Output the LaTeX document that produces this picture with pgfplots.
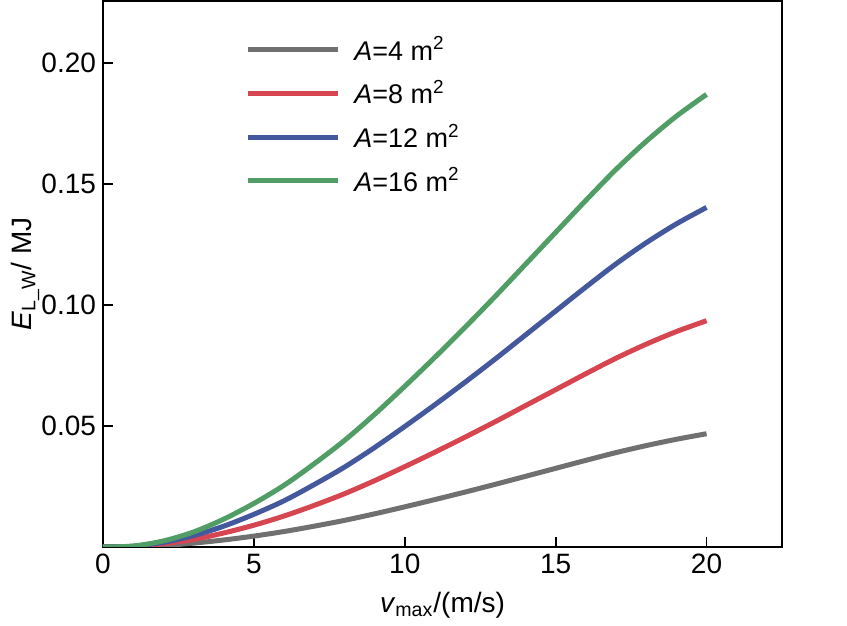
\documentclass[border=0pt]{standalone}
\usepackage{fontspec}
\setmainfont{Liberation Sans}
\usepackage{pgfplots}
\pgfplotsset{compat=1.18}

\definecolor{cgray}{RGB}{112,112,112}
\definecolor{cred}{RGB}{214,70,80}
\definecolor{cblue}{RGB}{68,88,158}
\definecolor{cgreen}{RGB}{80,158,102}

\begin{document}
\begin{tikzpicture}
\begin{axis}[
  at={(0,0)}, anchor=south west,
  scale only axis,
  width=339.5pt, height=273pt,
  xmin=0, xmax=22.5,
  ymin=0, ymax=0.2256,
  xtick={0,5,10,15,20},
  ytick={0.05,0.10,0.15,0.20},
  yticklabel style={/pgf/number format/.cd, fixed, fixed zerofill, precision=2},
  /pgf/number format/assume math mode=true,
  tick align=inside,
  xtick pos=left, ytick pos=left,
  major tick length=5pt,
  every tick/.style={black, line width=0.9pt},
  axis line style={line width=1pt},
  tick label style={font=\fontsize{14}{16}\selectfont},
  label style={font=\fontsize{14}{16}\selectfont},
  xlabel={\textit{v}\textsubscript{max}/(m/s)},
  ylabel={\textit{E}\textsubscript{L\_W}/ MJ},
  xlabel style={at={(axis description cs:0.5,0)}, anchor=center, yshift=-29pt},
  ylabel style={at={(axis description cs:0,0.5)}, anchor=center, yshift=39pt},
  legend style={draw=none, fill=none, at={(0.209,0.943)}, anchor=north west,
    font=\fontsize{13.5}{15}\selectfont, row sep=4.5pt, column sep=5pt, inner sep=0pt},
  legend cell align=left,
  legend image code/.code={\draw[#1] (0pt,0pt) -- (45pt,0pt);},
  every axis plot/.append style={line width=2.5pt, smooth},
]
\addplot[cgray] coordinates {
(0,0) (1,0.0001) (2,0.0006) (3,0.0016) (4,0.0029) (5,0.0045) (6,0.0064)
(7,0.0086) (8,0.0110) (9,0.0137) (10,0.0166) (11,0.0196) (12,0.0227)
(13,0.0259) (14,0.0292) (15,0.0325) (16,0.0358) (17,0.0390) (18,0.0419)
(19,0.0445) (20,0.0468)};
\addlegendentry{\textit{A}=4 m\textsuperscript{2}}
\addplot[cred] coordinates {
(0,0) (1,0.0002) (2,0.0013) (3,0.0031) (4,0.0058) (5,0.0090) (6,0.0128)
(7,0.0172) (8,0.0220) (9,0.0274) (10,0.0332) (11,0.0392) (12,0.0454)
(13,0.0518) (14,0.0584) (15,0.0650) (16,0.0716) (17,0.0780) (18,0.0838)
(19,0.0890) (20,0.0935)};
\addlegendentry{\textit{A}=8 m\textsuperscript{2}}
\addplot[cblue] coordinates {
(0,0) (1,0.0003) (2,0.0019) (3,0.0047) (4,0.0086) (5,0.0135) (6,0.0191)
(7,0.0258) (8,0.0330) (9,0.0411) (10,0.0498) (11,0.0588) (12,0.0681)
(13,0.0777) (14,0.0876) (15,0.0975) (16,0.1074) (17,0.1170) (18,0.1257)
(19,0.1335) (20,0.1403)};
\addlegendentry{\textit{A}=12 m\textsuperscript{2}}
\addplot[cgreen] coordinates {
(0,0) (1,0.0004) (2,0.0025) (3,0.0062) (4,0.0115) (5,0.0180) (6,0.0255)
(7,0.0344) (8,0.0440) (9,0.0548) (10,0.0664) (11,0.0784) (12,0.0908)
(13,0.1036) (14,0.1168) (15,0.1300) (16,0.1432) (17,0.1560) (18,0.1676)
(19,0.1780) (20,0.1870)};
\addlegendentry{\textit{A}=16 m\textsuperscript{2}}
\end{axis}
\useasboundingbox (-51.5pt,-39.5pt) rectangle (372pt,273.5pt);
\end{tikzpicture}
\end{document}
